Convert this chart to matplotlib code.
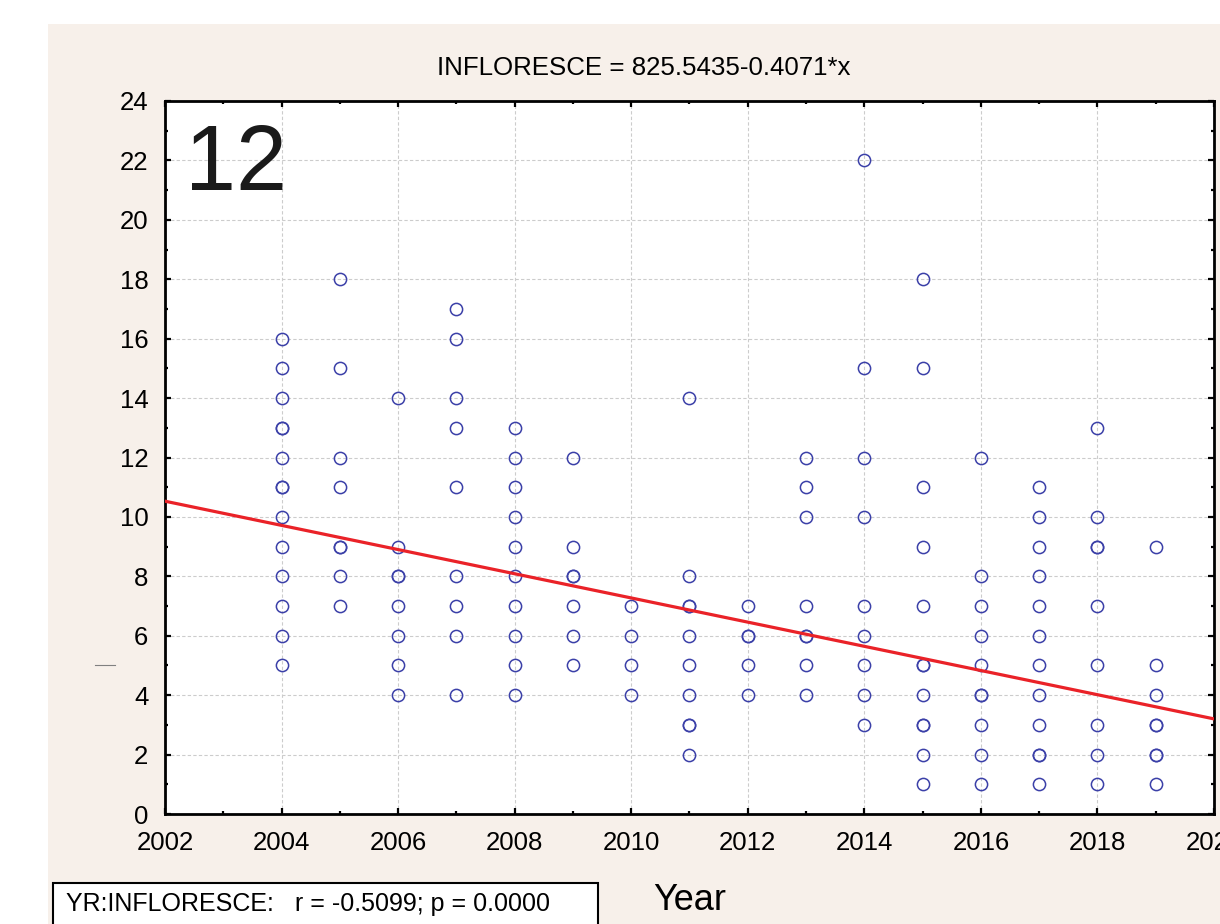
import numpy as np
import matplotlib
matplotlib.use("Agg")
import matplotlib.pyplot as plt
from matplotlib.patches import Rectangle
from matplotlib.lines import Line2D
from matplotlib.ticker import MultipleLocator

plt.rcParams["font.family"] = ["Liberation Sans", "DejaVu Sans"]

# Observations per year (repeated values = overlapping points)
years = [2004, 2005, 2006, 2007, 2008, 2009, 2010, 2011,
         2012, 2013, 2014, 2015, 2016, 2017, 2018, 2019]
values = [
    [16, 15, 14, 13, 13, 12, 11, 11, 10, 9, 8, 7, 6, 5],
    [18, 15, 12, 11, 9, 9, 8, 7],
    [14, 9, 8, 8, 7, 6, 5, 4],
    [17, 16, 14, 13, 11, 8, 7, 6, 4],
    [13, 12, 11, 10, 9, 8, 7, 6, 5, 4],
    [12, 9, 8, 8, 7, 6, 5],
    [7, 6, 5, 4],
    [14, 8, 7, 7, 6, 5, 4, 3, 3, 2],
    [7, 6, 6, 5, 4],
    [12, 11, 10, 7, 6, 6, 5, 4],
    [22, 15, 12, 10, 7, 6, 5, 4, 3],
    [18, 15, 11, 9, 7, 5, 5, 4, 3, 3, 2, 1],
    [12, 8, 7, 6, 5, 4, 4, 3, 2, 1],
    [11, 10, 9, 8, 7, 6, 5, 4, 3, 2, 2, 1],
    [13, 10, 9, 9, 7, 5, 3, 2, 1],
    [9, 5, 4, 3, 3, 2, 2, 1],
]

# Regression fit
intercept = 825.5435
slope = -0.4071
r_value = -0.5099
p_value = 0.0

x_pts = np.concatenate([[y] * len(v) for y, v in zip(years, values)])
y_pts = np.concatenate(values)

fig = plt.figure(figsize=(12.2, 9.24), dpi=100, facecolor="white")

# beige panel behind the graph
fig.add_artist(Rectangle((48 / 1220, 0), 1 - 48 / 1220, 1 - 24 / 924,
                         transform=fig.transFigure, facecolor="#f7f0ea",
                         edgecolor="none", zorder=0))

ax = fig.add_axes([165 / 1220, 1 - 814 / 924, 1049 / 1220, 713 / 924])
ax.set_facecolor("white")

ax.plot(x_pts, y_pts, linestyle="none", marker="o", markersize=8.8,
        markerfacecolor="none", markeredgecolor="#3b40a8",
        markeredgewidth=1.1, zorder=3)

xl = np.array([2002, 2020])
ax.plot(xl, intercept + slope * xl, color="#ea2228", linewidth=2.3, zorder=4)

ax.set_xlim(2002, 2020)
ax.set_ylim(0, 24)
ax.xaxis.set_major_locator(MultipleLocator(2))
ax.xaxis.set_minor_locator(MultipleLocator(1))
ax.yaxis.set_major_locator(MultipleLocator(2))
ax.yaxis.set_minor_locator(MultipleLocator(1))

ax.grid(True, which="major", color="#cccccc", linestyle=(0, (3, 2)),
        linewidth=0.8, zorder=1)

for s in ax.spines.values():
    s.set_linewidth(2.0)
    s.set_color("black")

ax.tick_params(which="both", direction="in", top=True, right=True,
               labeltop=False, labelright=False, width=1.6, color="black")
ax.tick_params(which="major", length=4)
ax.tick_params(which="minor", length=2.5)
ax.tick_params(axis="x", which="major", labelsize=18.5, pad=12)
ax.tick_params(axis="y", which="major", labelsize=18.5, pad=12)

ax.set_xlabel("Year", fontsize=26)
ax.xaxis.label.set_va("baseline")
ax.xaxis.set_label_coords(0.5, (814 - 910) / 713)

ax.text(0.019, (814 - 190) / 713, "12", transform=ax.transAxes,
        fontsize=66, ha="left", va="baseline", color="#1a1a1a")

fig.text(644 / 1220, 1 - 68 / 924,
         f"INFLORESCE = {intercept:.4f}{slope:.4f}*x",
         fontsize=18.6, ha="center", va="center")

# small stray mark on the left
fig.add_artist(Line2D([95 / 1220, 115 / 1220], [1 - 665 / 924, 1 - 665 / 924],
                      transform=fig.transFigure, color="#808080", linewidth=0.8))

# statistics box at the bottom
fig.add_artist(Rectangle((53 / 1220, -0.02), 545 / 1220, 0.02 + 1 - 883 / 924,
                         transform=fig.transFigure, facecolor="white",
                         edgecolor="black", linewidth=1.5, zorder=5))
fig.text(66 / 1220, 1 - 911 / 924,
         f"YR:INFLORESCE:   r = {r_value:.4f}; p = {p_value:.4f}",
         fontsize=18, ha="left", va="baseline", zorder=6)

fig.savefig("out.png", dpi=100, facecolor=fig.get_facecolor())
